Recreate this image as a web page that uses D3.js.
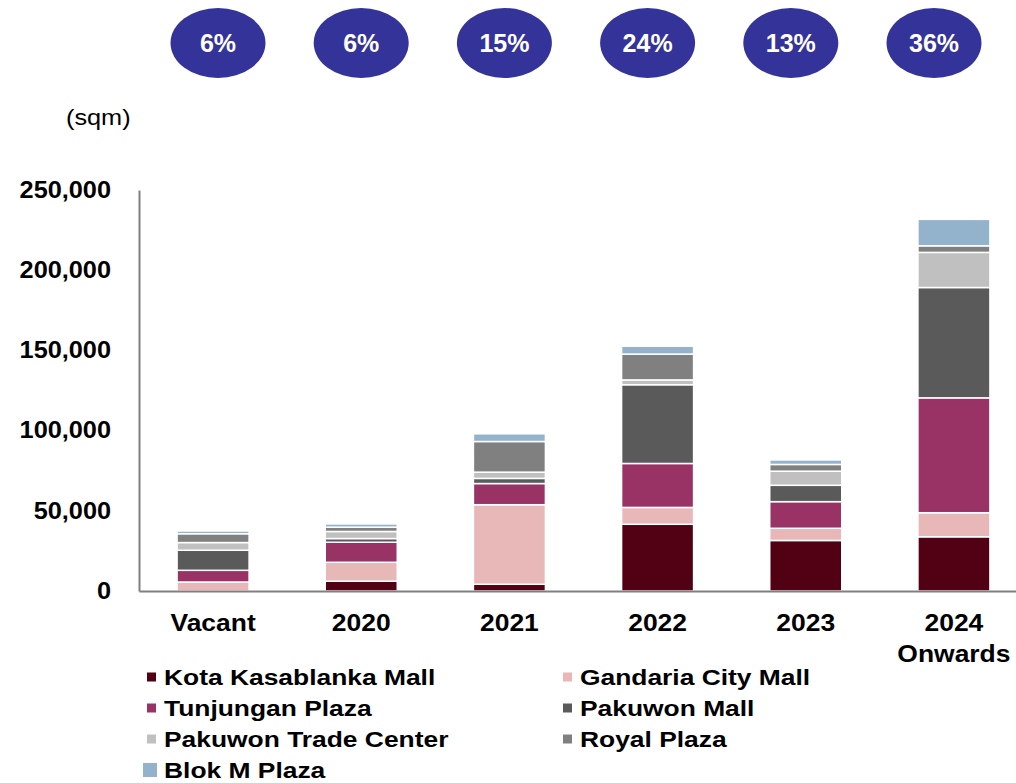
<!DOCTYPE html>
<html>
<head>
<meta charset="utf-8">
<script src="https://cdn.jsdelivr.net/npm/d3@7"></script>
<style>
  body { margin: 0; background: #fff; }
  svg text { font-family: "Liberation Sans", Arial, sans-serif; }
</style>
</head>
<body>
<script>
// categories on the x axis
var categories = ["Vacant", "2020", "2021", "2022", "2023", "2024 Onwards"];

// sqm per mall
var kotaKasablanka = [0, 6100, 4200, 41600, 31500, 33800];
var gandariaCity   = [5600, 11800, 49600, 10500, 7600, 15000];
var tunjungan      = [7300, 12500, 13200, 27400, 16600, 71600];
var pakuwonMall    = [12500, 2300, 3200, 49100, 10200, 68800];
var pakuwonTrade   = [4800, 4400, 3900, 3000, 8800, 21900];
var royalPlaza     = [5500, 2700, 19100, 16100, 4200, 4100];
var blokM          = [1700, 2000, 4800, 4900, 2800, 16500];

// bubble labels over the bars
var shares = ["6%", "6%", "15%", "24%", "13%", "36%"];

var yTicks = [0, 50000, 100000, 150000, 200000, 250000];

var seriesNames = ["Kota Kasablanka Mall", "Gandaria City Mall", "Tunjungan Plaza",
    "Pakuwon Mall", "Pakuwon Trade Center", "Royal Plaza", "Blok M Plaza"];
var seriesKeys = ["kk", "gc", "tp", "pm", "ptc", "rp", "bm"];
var colors = ["#520014", "#e8b8b8", "#993366", "#5a5a5a", "#c0c0c0", "#808080", "#93b3cc"];

var w = 1016, h = 783;

// build table for d3.stack
var table = categories.map(function(c, i) {
    return {cat: c, kk: kotaKasablanka[i], gc: gandariaCity[i], tp: tunjungan[i],
        pm: pakuwonMall[i], ptc: pakuwonTrade[i], rp: royalPlaza[i], bm: blokM[i]};
});

var svg = d3.select("body").append("svg")
    .attr("width", w)
    .attr("height", h);

var x = d3.scaleBand()
    .domain(categories)
    .range([139, 1028])
    .paddingInner(0.514)
    .paddingOuter(0.257);

var y = d3.scaleLinear()
    .domain([0, 250000])
    .range([591, 190]);

var stacked = d3.stack().keys(seriesKeys)(table);

//bars
svg.selectAll("g.layer")
    .data(stacked)
    .enter()
    .append("g")
    .attr("class", "layer")
    .attr("fill", function(d, i) { return colors[i]; })
    .selectAll("rect")
    .data(function(d) { return d; })
    .enter()
    .append("rect")
    .attr("x", function(d) { return x(d.data.cat); })
    .attr("y", function(d) { return y(d[1]); })
    .attr("width", x.bandwidth())
    .attr("height", function(d) { return y(d[0]) - y(d[1]); })
    .attr("stroke", "#fff")
    .attr("stroke-width", 1.5);

//y axis
var yAxis = svg.append("g")
    .attr("transform", "translate(139,0)")
    .call(d3.axisLeft(y).tickValues(yTicks).tickSize(0).tickFormat(d3.format(",")));
yAxis.select(".domain").attr("stroke", "#808080").attr("stroke-width", 2);
yAxis.selectAll("text")
    .attr("x", 0)
    .attr("transform", "translate(-28,0) scale(1.1,1)")
    .attr("font-size", "23px")
    .attr("font-weight", "bold")
    .attr("fill", "#000");

//x axis
var xAxis = svg.append("g")
    .attr("transform", "translate(0,591)")
    .call(d3.axisBottom(x).tickSize(0).tickFormat(""));
xAxis.select(".domain").attr("stroke", "#808080").attr("stroke-width", 2);

svg.selectAll("text.xlab")
    .data(categories)
    .enter()
    .append("text")
    .attr("class", "xlab")
    .attr("transform", function(d) {
        return "translate(" + (x(d) + x.bandwidth() / 2) + ",631) scale(1.15,1)";
    })
    .attr("text-anchor", "middle")
    .attr("font-size", "23px")
    .attr("font-weight", "bold")
    .each(function(d) {
        var parts = d.split(" ");
        var t = d3.select(this);
        parts.forEach(function(p, k) {
            t.append("tspan").attr("x", 0).attr("dy", k == 0 ? 0 : 31).text(p);
        });
    });

//unit label
svg.append("text")
    .attr("transform", "translate(66,125) scale(1.15,1)")
    .attr("font-size", "22px")
    .text("(sqm)");

//share bubbles
var bx = d3.scalePoint().domain(categories).range([218, 934]);
var bub = svg.selectAll("g.bub")
    .data(shares)
    .enter()
    .append("g")
    .attr("class", "bub")
    .attr("transform", function(d, i) { return "translate(" + bx(categories[i]) + ",43)"; });
bub.append("ellipse")
    .attr("rx", 47.5)
    .attr("ry", 35)
    .attr("fill", "#333399");
bub.append("text")
    .attr("text-anchor", "middle")
    .attr("dy", "0.36em")
    .attr("font-size", "25px")
    .attr("font-weight", "bold")
    .attr("fill", "#fff")
    .text(function(d) { return d; });

//legend
var leg = svg.selectAll("g.leg")
    .data(seriesNames)
    .enter()
    .append("g")
    .attr("class", "leg")
    .attr("transform", function(d, i) {
        return "translate(" + (i % 2 == 0 ? 147 : 563) + "," + (677 + Math.floor(i / 2) * 31) + ")";
    });
leg.append("rect")
    .attr("x", function(d, i) { return i == 6 ? -4 : 0; })
    .attr("y", function(d, i) { return i == 6 ? -7 : -4.5; })
    .attr("width", function(d, i) { return i == 6 ? 14 : 9; })
    .attr("height", function(d, i) { return i == 6 ? 14 : 9; })
    .attr("fill", function(d, i) { return colors[i]; });
leg.append("text")
    .attr("transform", "translate(17,8) scale(1.2,1)")
    .attr("font-size", "22px")
    .attr("font-weight", "bold")
    .text(function(d) { return d; });
</script>
</body>
</html>
